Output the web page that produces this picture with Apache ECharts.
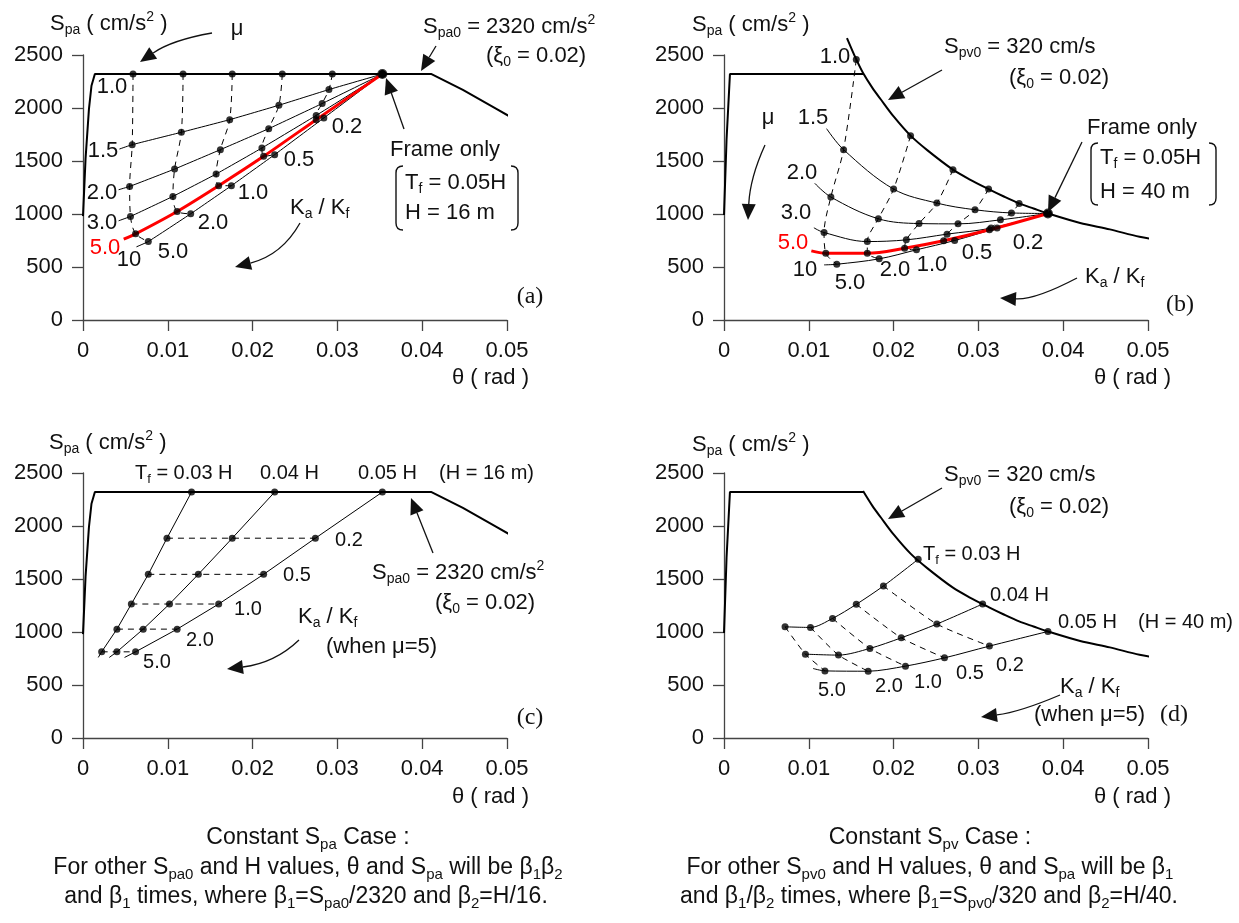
<!DOCTYPE html>
<html>
<head>
<meta charset="utf-8">
<title>Spa - theta charts</title>
<script src="https://cdn.jsdelivr.net/npm/echarts@6/dist/echarts.min.js"></script>
<style>
  html, body { margin: 0; padding: 0; background: #fff; }
  #main { width: 1239px; height: 923px; }
</style>
</head>
<body>
<div id="main"></div>
<script>
"use strict";
// axis ranges
var thetaMin = 0, thetaMax = 0.05, thetaStep = 0.01;
var spaMin = 0, spaMax = 2500, spaStep = 500;

// design spectra, [theta (rad), Spa (cm/s2)]
var spaEnvelope = [[0, 980], [0.0003, 1520], [0.0007, 1990], [0.001, 2210], [0.0014, 2320], [0.0411, 2320], [0.0448, 2170], [0.0488, 1990], [0.052, 1843]];
var spvPlateau = [[0, 990], [0.0003, 1700], [0.0007, 2320], [0.0164, 2320]];
var spvCurve = [[0.0145, 2660], [0.0156, 2458], [0.0164, 2330], [0.0175, 2190], [0.0185, 2080], [0.02, 1920], [0.022, 1739], [0.024, 1600],
    [0.027, 1418], [0.029, 1325], [0.0312, 1235], [0.033, 1165], [0.0348, 1100], [0.0365, 1052], [0.0382, 1005], [0.042, 915],
    [0.0455, 855], [0.049, 785], [0.0523, 740]];

// (a) constant Spa, H = 16 m. one line per mu; after the start point: Ka/Kf = 5.0, 2.0, 1.0, 0.5, 0.2, frame only
var muA_1_0 = [[0.0059, 2320], [0.0118, 2320], [0.0176, 2320], [0.0235, 2320], [0.0294, 2320], [0.0353, 2320]];
var muA_1_5 = [[0.0043, 1613], [0.0058, 1654], [0.0116, 1771], [0.0173, 1890], [0.0231, 2026], [0.029, 2174], [0.0353, 2320]];
var muA_2_0 = [[0.0042, 1229], [0.0055, 1260], [0.0108, 1424], [0.0162, 1607], [0.0219, 1805], [0.0282, 2042], [0.0353, 2320]];
var muA_3_0 = [[0.0042, 936], [0.0056, 977], [0.0106, 1166], [0.0157, 1377], [0.0211, 1623], [0.0275, 1930], [0.0353, 2320]];
var muA_5_0 = [[0.0048, 763], [0.0062, 813], [0.0111, 1024], [0.016, 1267], [0.0213, 1544], [0.0275, 1890], [0.0353, 2320]];
var muA_10 = [[0.0063, 690], [0.0077, 740], [0.0127, 1002], [0.0175, 1267], [0.0226, 1560], [0.0284, 1906], [0.0353, 2320]];

// (b) constant Spv, H = 40 m
var muB_1_0 = [[0.0156, 2458], [0.022, 1739], [0.027, 1418], [0.0312, 1235], [0.0348, 1100], [0.0382, 1005]];
var muB_1_5 = [[0.0121, 1805], [0.0141, 1607], [0.02, 1235], [0.0251, 1103], [0.0296, 1040], [0.0339, 1010], [0.0382, 1005]];
var muB_2_0 = [[0.0107, 1290], [0.0126, 1160], [0.0182, 955], [0.023, 910], [0.0276, 907], [0.0326, 945], [0.0382, 1005]];
var muB_3_0 = [[0.0106, 870], [0.0118, 825], [0.0169, 740], [0.0215, 756], [0.0263, 810], [0.0315, 867], [0.0382, 1005]];
var muB_5_0 = [[0.0103, 652], [0.012, 630], [0.0169, 630], [0.0213, 677], [0.0259, 747], [0.0313, 851], [0.0382, 1005]];
var muB_10 = [[0.0118, 520], [0.0133, 526], [0.0183, 577], [0.0227, 662], [0.0272, 750], [0.0322, 867], [0.0382, 1005]];

// (c) constant Spa, mu = 5, Tf = 0.03H / 0.04H / 0.05H; after start: Ka/Kf = 5.0, 2.0, 1.0, 0.5, 0.2, frame only
var tfC_03 = [[0.0018, 760], [0.0022, 813], [0.004, 1027], [0.0057, 1264], [0.0077, 1544], [0.0099, 1885], [0.0128, 2320]];
var tfC_04 = [[0.0031, 760], [0.004, 813], [0.0071, 1027], [0.0102, 1264], [0.0136, 1544], [0.0176, 1885], [0.0226, 2320]];
var tfC_05 = [[0.0049, 760], [0.0062, 813], [0.0111, 1027], [0.016, 1264], [0.0213, 1544], [0.0274, 1885], [0.0353, 2320]];

// (d) constant Spv, mu = 5; Ka/Kf = 5.0, 2.0, 1.0, 0.5, 0.2, frame only
var tfD_03 = [[0.0072, 1049], [0.0102, 1043], [0.0128, 1128], [0.0156, 1261], [0.0188, 1434], [0.0229, 1686]];
var tfD_04 = [[0.0096, 791], [0.0135, 782], [0.0172, 845], [0.0209, 945], [0.0251, 1075], [0.0305, 1264]];
var tfD_05 = [[0.0105, 656], [0.0119, 633], [0.017, 630], [0.0214, 678], [0.026, 756], [0.0313, 867], [0.0382, 1005]];

var kaLabels = ['5.0', '2.0', '1.0', '0.5', '0.2'];

var FONT = '"Liberation Sans", Arial, Helvetica, sans-serif';
var SERIF = '"Liberation Serif", "Times New Roman", serif';
var RED = '#ff0000';

var chart = echarts.init(document.getElementById('main'), null, {renderer: 'canvas'});

var grids = [
    {left: 83, top: 55, width: 424, height: 265},
    {left: 724, top: 55, width: 424, height: 265},
    {left: 83, top: 473, width: 424, height: 265},
    {left: 724, top: 473, width: 424, height: 265}
];

function xAxis(i) {
    return {
        type: 'value', gridIndex: i, min: thetaMin, max: thetaMax, interval: thetaStep,
        axisLine: {lineStyle: {color: '#444', width: 1.3}},
        axisTick: {length: 11, lineStyle: {color: '#444', width: 1.3}},
        axisLabel: {color: '#111', fontSize: 22, fontFamily: FONT, margin: 20,
            formatter: function (v) { return v === 0 ? '0' : v.toFixed(2); }},
        splitLine: {show: false}
    };
}
function yAxis(i) {
    return {
        type: 'value', gridIndex: i, min: spaMin, max: spaMax, interval: spaStep,
        axisLine: {show: true, lineStyle: {color: '#444', width: 1.3}},
        axisTick: {show: true, length: 11, lineStyle: {color: '#444', width: 1.3}},
        axisLabel: {color: '#111', fontSize: 22, fontFamily: FONT, margin: 20,
            formatter: function (v) { return String(v); }},
        splitLine: {show: false}
    };
}

function line(g, data, color, width, extra) {
    var s = {
        type: 'line', xAxisIndex: g, yAxisIndex: g, data: data, showSymbol: false,
        clip: false, silent: true, z: 2,
        lineStyle: {color: color, width: width}
    };
    return Object.assign(s, extra || {});
}
function dashed(g, data, smooth) {
    return line(g, data, '#000', 1, {smooth: smooth, lineStyle: {color: '#000', width: 1, type: [6, 5]}});
}
function dots(g, data, size) {
    return {
        type: 'scatter', xAxisIndex: g, yAxisIndex: g, data: data, symbolSize: size || 7,
        itemStyle: {color: '#000'}, clip: false, silent: true, z: 5
    };
}

var series = [];

// ---- (a)
series.push(line(0, spaEnvelope, '#000', 2));
[muA_1_5, muA_2_0, muA_3_0, muA_10].forEach(function (d) {
    series.push(line(0, d, '#000', 1, {smooth: 0.1}));
    series.push(dots(0, d.slice(1)));
});
series.push(line(0, muA_5_0, RED, 3, {smooth: 0.2, z: 3}));
series.push(dots(0, muA_5_0.slice(1)));
series.push(dots(0, muA_1_0));
for (var k = 0; k < 5; k++) {
    series.push(dashed(0, [muA_1_0[k], muA_1_5[k + 1], muA_2_0[k + 1], muA_3_0[k + 1], muA_5_0[k + 1], muA_10[k + 1]], 0.3));
}
series.push(dots(0, [muA_1_0[5]], 10));

// ---- (b)
series.push(line(1, spvPlateau, '#000', 2));
series.push(line(1, spvCurve, '#000', 2, {smooth: 0.3}));
[muB_1_5, muB_2_0, muB_3_0, muB_10].forEach(function (d) {
    series.push(line(1, d, '#000', 1, {smooth: 0.35}));
    series.push(dots(1, d.slice(1)));
});
series.push(line(1, muB_5_0, RED, 3, {smooth: 0.35, z: 3}));
series.push(dots(1, muB_5_0.slice(1)));
series.push(dots(1, muB_1_0));
for (k = 0; k < 5; k++) {
    series.push(dashed(1, [muB_1_0[k], muB_1_5[k + 1], muB_2_0[k + 1], muB_3_0[k + 1], muB_5_0[k + 1], muB_10[k + 1]], 0.3));
}
series.push(dots(1, [muB_1_0[5]], 10));

// ---- (c)
series.push(line(2, spaEnvelope, '#000', 2));
[tfC_03, tfC_04, tfC_05].forEach(function (d) {
    series.push(line(2, d, '#000', 1));
    series.push(dots(2, d.slice(1)));
});
for (k = 1; k < 6; k++) {
    series.push(dashed(2, [tfC_03[k], tfC_04[k], tfC_05[k]], false));
}

// ---- (d)
series.push(line(3, spvPlateau, '#000', 2));
series.push(line(3, spvCurve.slice(2), '#000', 2, {smooth: 0.3}));
series.push(line(3, tfD_03, '#000', 1, {smooth: 0.3}));
series.push(dots(3, tfD_03));
series.push(line(3, tfD_04, '#000', 1, {smooth: 0.3}));
series.push(dots(3, tfD_04));
series.push(line(3, tfD_05, '#000', 1, {smooth: 0.3}));
series.push(dots(3, tfD_05.slice(1)));
for (k = 0; k < 5; k++) {
    series.push(dashed(3, [tfD_03[k], tfD_04[k], tfD_05[k + 1]], 0.2));
}

// ---- text and arrows
function T(x, y, s, opt) {
    opt = opt || {};
    var size = opt.size || 22;
    var col = opt.color || '#111';
    var small = Math.round(size * 0.64);
    return {
        type: 'text', x: x, y: y, silent: true, z: 20,
        style: {
            text: s, fontSize: size, fontFamily: opt.family || FONT, fill: col,
            align: opt.align || 'left', verticalAlign: 'middle',
            textAlign: opt.align || 'left', textVerticalAlign: 'middle',
            lineHeight: size + 5,
            rich: {
                s: {fontSize: small, fontFamily: FONT, fill: col, color: col, verticalAlign: 'bottom', lineHeight: small},
                p: {fontSize: small, fontFamily: FONT, fill: col, color: col, verticalAlign: 'top', lineHeight: small}
            }
        }
    };
}
function C(x, y, s, opt) {
    opt = Object.assign({align: 'center'}, opt || {});
    return T(x, y, s, opt);
}

function arrow(x1, y1, x2, y2, cx, cy) {
    var curved = cx !== undefined;
    var fx = curved ? cx : x1, fy = curved ? cy : y1;
    var dx = x2 - fx, dy = y2 - fy;
    var L = Math.sqrt(dx * dx + dy * dy);
    dx /= L; dy /= L;
    var hl = 16, hw = 7;
    var bx = x2 - dx * hl, by = y2 - dy * hl;
    var stroke = {stroke: '#111', lineWidth: 1.3, fill: null};
    var body = curved
        ? {type: 'bezierCurve', shape: {x1: x1, y1: y1, x2: bx, y2: by, cpx1: cx, cpy1: cy}, style: stroke, silent: true, z: 20}
        : {type: 'line', shape: {x1: x1, y1: y1, x2: bx, y2: by}, style: stroke, silent: true, z: 20};
    var head = {
        type: 'polygon', silent: true, z: 20,
        shape: {points: [[x2, y2], [bx - dy * hw, by + dx * hw], [bx + dy * hw, by - dx * hw]]},
        style: {fill: '#111'}
    };
    return [body, head];
}

function bracket(x, y1, y2, dir) {
    var r = 7;
    var st = {stroke: '#111', lineWidth: 1.4, fill: null};
    return [
        {type: 'bezierCurve', silent: true, z: 20, shape: {x1: x + dir * r, y1: y1, x2: x, y2: y1 + r, cpx1: x, cpy1: y1}, style: st},
        {type: 'line', silent: true, z: 20, shape: {x1: x, y1: y1 + r, x2: x, y2: y2 - r}, style: st},
        {type: 'bezierCurve', silent: true, z: 20, shape: {x1: x, y1: y2 - r, x2: x + dir * r, y2: y2, cpx1: x, cpy1: y2}, style: st}
    ];
}

var spaName = 'S{s|pa} ( cm/s{p|2} )';
var thetaName = 'θ ( rad )';
var sm = {size: 20};
var g = [];

// (a)
g.push(T(50, 24, spaName), T(452, 378, thetaName));
g.push(C(237, 29, 'μ'));
g.push(T(423, 27, 'S{s|pa0} = 2320 cm/s{p|2}'), T(486, 56, '(ξ{s|0} = 0.02)'));
g.push(T(390, 150, 'Frame only'), T(405, 183, 'T{s|f} = 0.05H'), T(405, 213, 'H = 16 m'));
g = g.concat(bracket(396, 166, 230, 1), bracket(518, 166, 230, -1));
g.push(T(290, 208, 'K{s|a} / K{s|f}'));
g.push(C(530, 297, '(a)', {family: SERIF, size: 24}));
g.push(C(112, 87, '1.0'), C(103, 151, '1.5'), C(102, 193, '2.0'), C(102, 223, '3.0'),
    C(105, 248, '5.0', {color: RED}), C(129, 260, '10'));
[[173, 252], [213, 223], [253, 193], [299, 160], [347, 127]].forEach(function (p, i) {
    g.push(C(p[0], p[1], kaLabels[i]));
});
g = g.concat(arrow(212, 33, 140, 62, 172, 40));
g = g.concat(arrow(436, 46, 421, 71));
g = g.concat(arrow(404, 129, 386, 78));
g = g.concat(arrow(300, 223, 235, 267, 282, 255));

// (b)
g.push(T(692, 25, spaName), T(1094, 378, thetaName));
g.push(T(944, 47, 'S{s|pv0} = 320 cm/s'), T(1009, 78, '(ξ{s|0} = 0.02)'));
g.push(T(1087, 128, 'Frame only'), T(1100, 158, 'T{s|f} = 0.05H'), T(1100, 192, 'H = 40 m'));
g = g.concat(bracket(1091, 143, 205, 1), bracket(1216, 143, 205, -1));
g.push(T(1085, 277, 'K{s|a} / K{s|f}'));
g.push(C(1180, 305, '(b)', {family: SERIF, size: 24}));
g.push(C(768, 118, 'μ'));
g.push(C(835, 57, '1.0'), C(813, 118, '1.5'), C(802, 173, '2.0'), C(796, 213, '3.0'),
    C(793, 243, '5.0', {color: RED}), C(805, 270, '10'));
[[850, 283], [895, 270], [932, 265], [977, 253], [1028, 243]].forEach(function (p, i) {
    g.push(C(p[0], p[1], kaLabels[i]));
});
g = g.concat(arrow(942, 70, 888, 100));
g = g.concat(arrow(765, 145, 748, 220, 750, 178));
g = g.concat(arrow(1082, 142, 1048, 212));
g = g.concat(arrow(1077, 278, 1000, 298, 1035, 300));

// (c)
g.push(T(49, 443, spaName), T(452, 797, thetaName));
g.push(T(135, 473, 'T{s|f} = 0.03 H', sm), T(260, 473, '0.04 H', sm), T(358, 473, '0.05 H', sm), T(439, 473, '(H = 16 m)', sm));
g.push(T(372, 573, 'S{s|pa0} = 2320 cm/s{p|2}'), T(435, 603, '(ξ{s|0} = 0.02)'));
g.push(T(298, 617, 'K{s|a} / K{s|f}'), T(326, 647, '(when μ=5)'));
g.push(C(530, 718, '(c)', {family: SERIF, size: 24}));
[[157, 662], [200, 640], [248, 609], [297, 575], [349, 540]].forEach(function (p, i) {
    g.push(C(p[0], p[1], kaLabels[i], sm));
});
g = g.concat(arrow(433, 553, 411, 498));
g = g.concat(arrow(299, 640, 227, 669, 275, 663));

// (d)
g.push(T(692, 445, spaName), T(1094, 797, thetaName));
g.push(T(944, 475, 'S{s|pv0} = 320 cm/s'), T(1009, 507, '(ξ{s|0} = 0.02)'));
g.push(T(923, 554, 'T{s|f} = 0.03 H', sm), T(990, 595, '0.04 H', sm), T(1058, 622, '0.05 H', sm), T(1138, 622, '(H = 40 m)', sm));
g.push(T(1060, 687, 'K{s|a} / K{s|f}'), T(1034, 715, '(when μ=5)'));
g.push(C(1174, 715, '(d)', {family: SERIF, size: 24}));
[[832, 690], [889, 686], [928, 682], [970, 673], [1010, 665]].forEach(function (p, i) {
    g.push(C(p[0], p[1], kaLabels[i], sm));
});
g = g.concat(arrow(942, 488, 888, 519));
g = g.concat(arrow(1060, 695, 981, 717, 1020, 712));

// captions
var cap = {size: 23};
g.push(C(308, 838, 'Constant S{s|pa} Case :', cap));
g.push(C(308, 868, 'For other S{s|pa0} and H values, θ and S{s|pa} will be β{s|1}β{s|2}', cap));
g.push(C(306, 897, 'and β{s|1} times, where β{s|1}=S{s|pa0}/2320 and β{s|2}=H/16.', cap));
g.push(C(930, 838, 'Constant S{s|pv} Case :', cap));
g.push(C(930, 868, 'For other S{s|pv0} and H values, θ and S{s|pa} will be β{s|1}', cap));
g.push(C(929, 897, 'and β{s|1}/β{s|2} times, where β{s|1}=S{s|pv0}/320 and β{s|2}=H/40.', cap));

var option = {
    animation: false,
    backgroundColor: '#fff',
    grid: grids,
    xAxis: [xAxis(0), xAxis(1), xAxis(2), xAxis(3)],
    yAxis: [yAxis(0), yAxis(1), yAxis(2), yAxis(3)],
    series: series,
    graphic: {elements: g}
};

chart.setOption(option);
</script>
</body>
</html>
